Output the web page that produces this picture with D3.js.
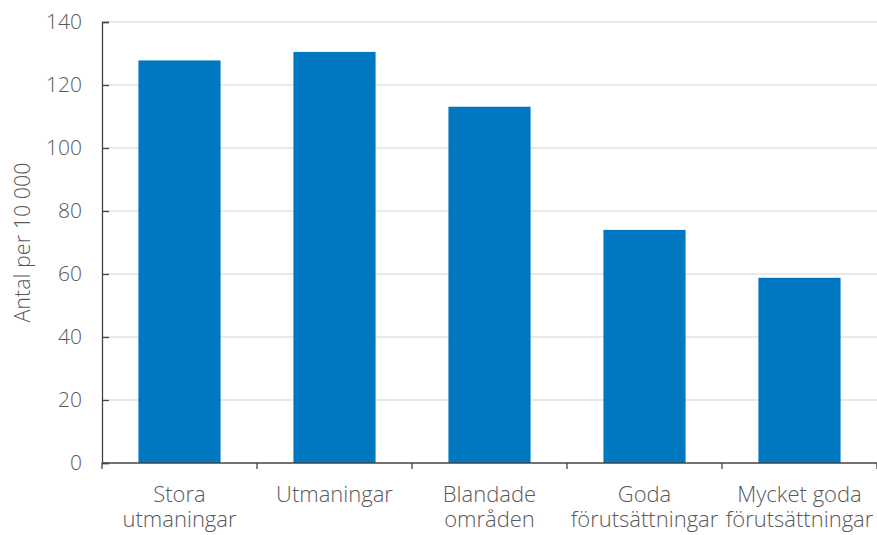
<!DOCTYPE html>
<html><head><meta charset="utf-8">
<script src="https://cdn.jsdelivr.net/npm/d3@7"></script>
<style>body{margin:0;background:#fff}svg{display:block}text{font-family:"Open Sans",sans-serif;font-weight:300;fill:#595959}</style>
</head><body><svg id="c" width="877" height="535"></svg>
<script>
const categories = [["Stora","utmaningar"],["Utmaningar"],["Blandade","områden"],["Goda","förutsättningar"],["Mycket goda","förutsättningar"]];
const values = [127.8, 130.5, 113.1, 74.0, 58.8];
const yTicks = [0,20,40,60,80,100,120,140];
const yTitle = "Antal per 10 000";

const svg = d3.select("#c");
const m = {l:102, r:877, t:22, b:463};
const x = d3.scaleBand().domain(d3.range(categories.length)).range([m.l, m.r]).paddingInner(0.47).paddingOuter(0.235);
const y = d3.scaleLinear().domain([0,140]).range([m.b, m.t]);

// grid
svg.append("g").selectAll("line").data(yTicks.filter(d=>d>0)).join("line")
  .attr("x1", m.l).attr("x2", m.r).attr("y1", d=>y(d)).attr("y2", d=>y(d))
  .attr("stroke","#d4d4d4").attr("stroke-width",1.2);

// bars
svg.append("g").selectAll("rect").data(values).join("rect")
  .attr("x",(d,i)=>x(i)).attr("width",x.bandwidth())
  .attr("y",d=>y(d)).attr("height",d=>y(0)-y(d)).attr("fill","#0078c1");

// y axis
const ya = svg.append("g").attr("transform",`translate(${m.l},0)`)
  .call(d3.axisRight(y).tickValues(yTicks).tickSize(7).tickFormat(""));
ya.select(".domain").attr("stroke","#444").attr("stroke-width",1.3);
ya.selectAll(".tick line").attr("stroke","#444").attr("stroke-width",1.3);
svg.append("g").selectAll("text").data(yTicks).join("text")
  .attr("x", m.l-20).attr("y", d=>y(d)).attr("dy","0.35em").attr("text-anchor","end")
  .style("font-size","21px").text(d=>d);

// x axis
const step = x.step();
const bounds = d3.range(categories.length+1).map(i=>m.l + i*step);
svg.append("line").attr("x1",m.l).attr("x2",m.r).attr("y1",m.b).attr("y2",m.b).attr("stroke","#444").attr("stroke-width",1.3);
svg.append("g").selectAll("line").data(bounds).join("line")
  .attr("x1",d=>d).attr("x2",d=>d).attr("y1",m.b).attr("y2",m.b+6).attr("stroke","#444").attr("stroke-width",1.3);

const lab = svg.append("g").selectAll("text").data(categories).join("text")
  .attr("text-anchor","middle").style("font-size","22px")
  .attr("transform",(d,i)=>`translate(${x(i)+x.bandwidth()/2},502)`);
lab.selectAll("tspan").data(d=>d).join("tspan").attr("x",0).attr("y",(d,j)=>j*25).text(d=>d);

svg.append("text").attr("transform",`translate(30,${(m.t+m.b)/2}) rotate(-90)`)
  .attr("text-anchor","middle").style("font-size","21.5px").text(yTitle);
</script></body></html>
